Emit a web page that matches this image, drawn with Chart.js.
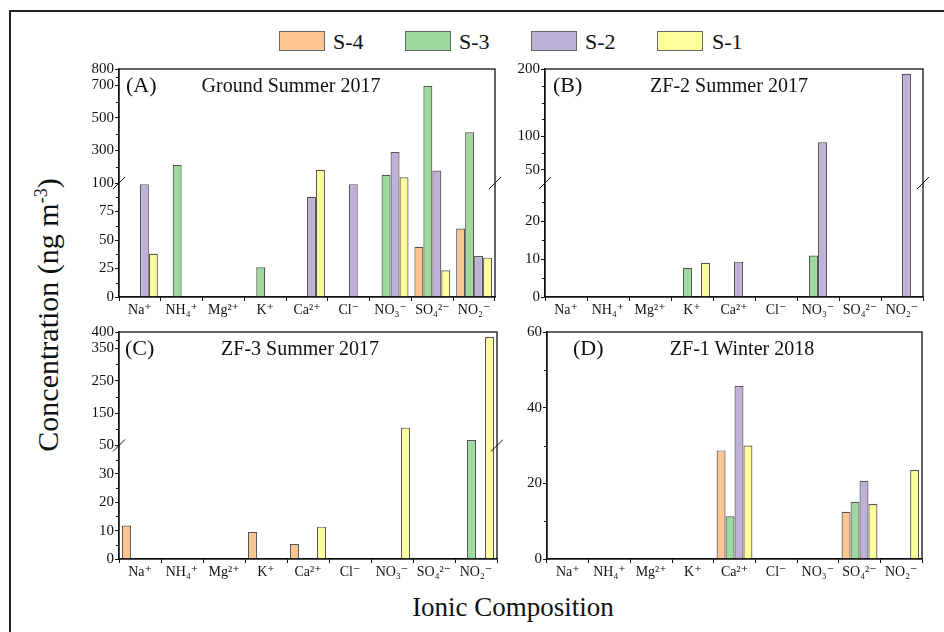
<!DOCTYPE html>
<html>
<head>
<meta charset="utf-8">
<script src="https://cdn.jsdelivr.net/npm/chart.js@4.4.1/dist/chart.umd.min.js"></script>
<style>
    body { margin: 0; background: #fff; }
    #fig { position: relative; width: 944px; height: 632px; overflow: hidden; font-family: 'Liberation Serif', 'DejaVu Serif', serif; color: #111; }
    #fig canvas { position: absolute; }
    .txt { position: absolute; white-space: nowrap; line-height: 1; }
    .mid { transform: translate(-50%, -50%); }
    .lbox { position: absolute; width: 46px; height: 20px; border: 1px solid #666; box-sizing: border-box; }
    #frame { position: absolute; left: 9px; top: 10px; width: 960px; height: 700px; border-left: 2px solid #222; border-top: 2px solid #222; }
</style>
</head>
<body>
<div id="fig">
    <div id="frame"></div>

    <!-- legend -->
    <div class="lbox" style="left:279px; top:31px; background:#FDC590"></div>
    <div class="txt" style="left:333px; top:31px; font-size:22px">S-4</div>
    <div class="lbox" style="left:405px; top:31px; background:#9DD89D"></div>
    <div class="txt" style="left:459px; top:31px; font-size:22px">S-3</div>
    <div class="lbox" style="left:531px; top:31px; background:#BEB1D8"></div>
    <div class="txt" style="left:585px; top:31px; font-size:22px">S-2</div>
    <div class="lbox" style="left:657px; top:31px; background:#FFFF99"></div>
    <div class="txt" style="left:712px; top:31px; font-size:22px">S-1</div>

    <canvas id="panelA" width="422" height="264" style="left:79px; top:59px"></canvas>
    <canvas id="panelB" width="424" height="264" style="left:505px; top:59px"></canvas>
    <canvas id="panelC" width="424" height="263" style="left:79px; top:322px"></canvas>
    <canvas id="panelD" width="421" height="263" style="left:507px; top:322px"></canvas>

    <!-- panel titles -->
    <div class="txt" style="left:126px; top:74px; font-size:22px">(A)</div>
    <div class="txt mid" style="left:291px; top:85px; font-size:20px">Ground Summer 2017</div>
    <div class="txt" style="left:553px; top:74px; font-size:22px">(B)</div>
    <div class="txt mid" style="left:729px; top:85px; font-size:20px">ZF-2 Summer 2017</div>
    <div class="txt" style="left:125px; top:337px; font-size:22px">(C)</div>
    <div class="txt mid" style="left:300px; top:348px; font-size:20px">ZF-3 Summer 2017</div>
    <div class="txt" style="left:573px; top:337px; font-size:22px">(D)</div>
    <div class="txt mid" style="left:742px; top:348px; font-size:20px">ZF-1 Winter 2018</div>

    <!-- axis titles -->
    <div class="txt mid" style="left:47px; top:315px; font-size:30px; transform: translate(-50%, -50%) rotate(-90deg)">Concentration (ng m<sup style="font-size:60%">-3</sup>)</div>
    <div class="txt mid" style="left:513px; top:607px; font-size:27px">Ionic Composition</div>
</div>

<script>
// categories and series
const categories = ['Na⁺', 'NH₄⁺', 'Mg²⁺', 'K⁺', 'Ca²⁺', 'Cl⁻', 'NO₃⁻', 'SO₄²⁻', 'NO₂⁻'];
const seriesNames = ['S-4', 'S-3', 'S-2', 'S-1'];
const seriesColors = ['#FDC590', '#9DD89D', '#BEB1D8', '#FFFF99'];

// (A) Ground Summer 2017
const groundS4 = [null, null, null, null, null, null, null, 44, 60];
const groundS3 = [null, 211, null, 26, null, null, 150, 696, 412];
const groundS2 = [99, null, null, null, 88, 99, 290, 177, 36];
const groundS1 = [38, null, null, null, 181, null, 135, 23.5, 34.5];

// (B) ZF-2 Summer 2017
const zf2S4 = [null, null, null, null, null, null, null, null, null];
const zf2S3 = [null, null, null, 7.7, null, null, 10.9, null, null];
const zf2S2 = [null, null, null, null, 9.3, null, 90.6, null, 193];
const zf2S1 = [null, null, null, 9, null, null, null, null, null];

// (C) ZF-3 Summer 2017
const zf3S4 = [11.8, null, null, 9.5, 5.3, null, null, null, null];
const zf3S3 = [null, null, null, null, null, null, null, null, 67];
const zf3S2 = [null, null, null, null, null, null, null, null, null];
const zf3S1 = [null, null, null, null, 11.4, null, 105, null, 385];

// (D) ZF-1 Winter 2018
const zf1S4 = [null, null, null, null, 28.7, null, null, 12.5, null];
const zf1S3 = [null, null, null, null, 11.3, null, null, 15.1, null];
const zf1S2 = [null, null, null, null, 45.7, null, null, 20.7, null];
const zf1S1 = [null, null, null, null, 30, null, null, 14.6, 23.5];

// tick labels
const ticksA = [0, 25, 50, 75, 100, 300, 500, 700, 800];
const ticksB = [0, 10, 20, 50, 100, 200];
const ticksC = [0, 10, 20, 30, 50, 150, 250, 350, 400];
const ticksD = [0, 20, 40, 60];
const minorA = [12.5, 37.5, 62.5, 87.5, 200, 400, 600, 750];
const minorB = [5, 15, 25, 75, 125, 150, 175];
const minorC = [5, 15, 25, 35, 100, 200, 300, 375];
const minorD = [10, 30, 50];

const FONT = "'Liberation Serif', 'DejaVu Serif', serif";

// broken axis: lower segment 0..lowMax fills half, upper highMin..highMax the other half
function brokenMap(lowMax, highMin, highMax) {
    return function(v) {
        if (v <= lowMax) return v / lowMax;
        return 1 + (v - highMin) / (highMax - highMin);
    };
}

function framePlugin(minorVals, map, hasBreak) {
    return {
        id: 'frame',
        afterDraw: function(chart) {
            const ctx = chart.ctx;
            const a = chart.chartArea;
            const y = chart.scales.y;
            ctx.save();
            ctx.strokeStyle = '#111';
            ctx.lineWidth = 1.3;
            ctx.strokeRect(a.left, a.top, a.right - a.left, a.bottom - a.top);
            // minor ticks
            ctx.lineWidth = 1;
            minorVals.forEach(function(v) {
                const py = Math.round(y.getPixelForValue(map(v))) + 0.5;
                ctx.beginPath();
                ctx.moveTo(a.left - 3, py);
                ctx.lineTo(a.left, py);
                ctx.stroke();
            });
            // break marks
            if (hasBreak) {
                const by = y.getPixelForValue(1);
                [a.left, a.right].forEach(function(x) {
                    ctx.beginPath();
                    ctx.moveTo(x - 6, by + 6);
                    ctx.lineTo(x + 6, by - 6);
                    ctx.stroke();
                });
            }
            ctx.restore();
        }
    };
}

function buildPanel(id, series, tickVals, minorVals, map, hasBreak) {
    const ctx = document.getElementById(id).getContext('2d');
    return new Chart(ctx, {
        type: 'bar',
        data: {
            labels: categories,
            datasets: seriesNames.map(function(name, i) {
                return {
                    label: name,
                    data: series[i].map(function(v) { return v == null ? null : map(v); }),
                    backgroundColor: seriesColors[i],
                    borderColor: '#555',
                    borderWidth: 1.2,
                    barPercentage: 1,
                    categoryPercentage: 0.86
                };
            })
        },
        options: {
            responsive: false,
            animation: false,
            layout: { padding: { top: 8, right: 6, left: 0, bottom: 0 } },
            plugins: {
                legend: { display: false },
                tooltip: { enabled: false }
            },
            scales: {
                x: {
                    grid: { drawOnChartArea: false, tickLength: 4, color: '#111' },
                    border: { color: '#111', width: 1.3 },
                    ticks: {
                        font: { family: FONT, size: 14 },
                        color: '#111',
                        padding: 1,
                        maxRotation: 0,
                        autoSkip: false
                    },
                    afterFit: function(s) { s.height = 26; }
                },
                y: {
                    min: 0,
                    max: 2,
                    afterBuildTicks: function(s) {
                        s.ticks = tickVals.map(function(v) { return { value: map(v) }; });
                    },
                    grid: { drawOnChartArea: false, tickLength: 4, color: '#111' },
                    border: { color: '#111', width: 1.3 },
                    ticks: {
                        font: { family: FONT, size: 15 },
                        color: '#111',
                        padding: 1,
                        callback: function(value, index) { return String(tickVals[index]); }
                    },
                    afterFit: function(s) { s.width = 40; }
                }
            }
        },
        plugins: [framePlugin(minorVals, map, hasBreak)]
    });
}

buildPanel('panelA', [groundS4, groundS3, groundS2, groundS1], ticksA, minorA, brokenMap(100, 100, 800), true);
buildPanel('panelB', [zf2S4, zf2S3, zf2S2, zf2S1], ticksB, minorB, brokenMap(30, 30, 200), true);
buildPanel('panelC', [zf3S4, zf3S3, zf3S2, zf3S1], ticksC, minorC, brokenMap(40, 50, 400), true);
buildPanel('panelD', [zf1S4, zf1S3, zf1S2, zf1S1], ticksD, minorD, brokenMap(30, 30, 60), false);
</script>
</body>
</html>
